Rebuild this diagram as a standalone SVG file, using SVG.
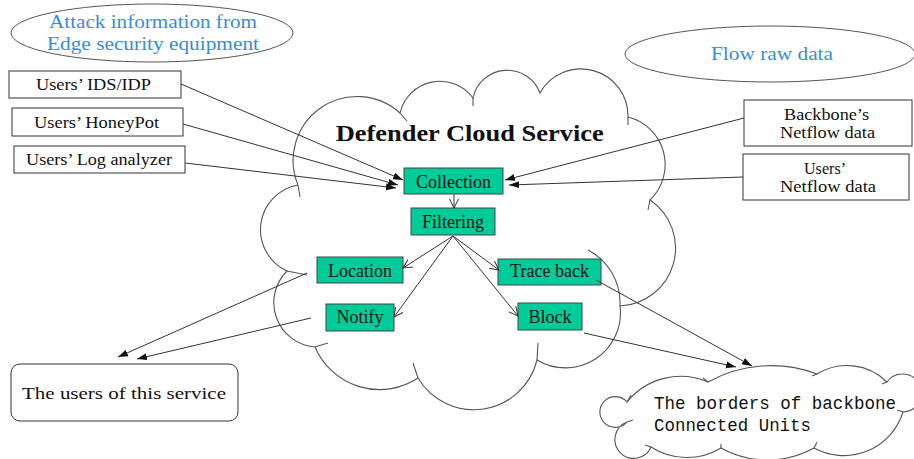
<svg xmlns="http://www.w3.org/2000/svg" width="914" height="459" viewBox="0 0 914 459">
<style>
.cloud{fill:none;stroke:#555;stroke-width:1.1}
.box{fill:#fff;stroke:#333;stroke-width:1}
.proc{fill:#00CC99;stroke:#444;stroke-width:1}
.t{font-family:"Liberation Serif","Times New Roman",serif;fill:#111}
.blue{font-family:"Liberation Serif","Times New Roman",serif;fill:#3a8be0;font-size:18px}
.ell{fill:none;stroke:#555;stroke-width:1}
.ln{fill:none;stroke:#333;stroke-width:1}
.mono{font-family:"Liberation Mono","Courier New",monospace;fill:#111;font-size:18.5px}
</style>
<defs>
<marker id="af" markerUnits="userSpaceOnUse" markerWidth="10" markerHeight="8" refX="10" refY="4" orient="auto"><path d="M0,0.5 L10,4 L0,7.5 z" fill="#111"/></marker>
<marker id="ao" markerUnits="userSpaceOnUse" markerWidth="10" markerHeight="10" refX="9" refY="5" orient="auto"><path d="M0,0.5 L9,5 L0,9.5" fill="none" stroke="#333" stroke-width="1"/></marker>
</defs>
<rect width="914" height="459" fill="#fff"/>

<g id="defender-cloud">
<path class="cloud" d="M298,185 A64 64 0 0 1 400,113 A41 41 0 0 1 473,98 A35 35 0 0 1 540,93 A47 47 0 0 1 628,117 A49 49 0 0 1 650,200 A58 58 0 0 1 620,306 A55 55 0 0 1 537,360 A65 65 0 0 1 418,378 A70 70 0 0 1 315,347 A44.5 44.5 0 0 1 287,271 A45.4 45.4 0 0 1 298,185"/>
<path class="cloud" d="M298,185 L300,197 M400,113 L407,121 M473,98 L473,106 M628,117 L628,125 M650,200 L648,210 M588,250 A60 60 0 0 1 620,306 M537,360 L538,343 M418,378 L413,363 M315,347 L328,343 M287,271 L307,275"/>
<text class="t" x="335.7" y="140.7" font-size="23" font-weight="bold" textLength="268" lengthAdjust="spacingAndGlyphs">Defender Cloud Service</text>
</g>

<g id="ellipse-attack">
<ellipse class="ell" cx="152" cy="33" rx="141" ry="29"/>
<text class="blue" x="49" y="28.3" textLength="208" lengthAdjust="spacingAndGlyphs">Attack information from</text>
<text class="blue" x="47" y="50" textLength="212" lengthAdjust="spacingAndGlyphs">Edge security equipment</text>
</g>

<g id="ellipse-flow">
<ellipse class="ell" cx="770" cy="54" rx="145" ry="28"/>
<text class="blue" x="711" y="60" textLength="122" lengthAdjust="spacingAndGlyphs">Flow raw data</text>
</g>

<g id="ids">
<rect class="box" x="9" y="71" width="172" height="27"/>
<text class="t" x="36" y="90" font-size="16" textLength="115" lengthAdjust="spacingAndGlyphs">Users’ IDS/IDP</text>
</g>
<g id="honeypot">
<rect class="box" x="12" y="108" width="171" height="28"/>
<text class="t" x="34" y="127.5" font-size="16" textLength="125" lengthAdjust="spacingAndGlyphs">Users’ HoneyPot</text>
</g>
<g id="loganalyzer">
<rect class="box" x="14" y="146" width="171" height="27"/>
<text class="t" x="26" y="165" font-size="16" textLength="146" lengthAdjust="spacingAndGlyphs">Users’ Log analyzer</text>
</g>

<g id="backbone-netflow">
<rect class="box" x="744" y="100" width="168" height="46"/>
<text class="t" x="784" y="120" font-size="16" textLength="85" lengthAdjust="spacingAndGlyphs">Backbone’s</text>
<text class="t" x="780" y="138.3" font-size="16" textLength="95" lengthAdjust="spacingAndGlyphs">Netflow data</text>
</g>
<g id="users-netflow">
<rect class="box" x="743" y="154" width="166" height="46"/>
<text class="t" x="804" y="174.3" font-size="16" textLength="42" lengthAdjust="spacingAndGlyphs">Users’</text>
<text class="t" x="780" y="192.3" font-size="16" textLength="96" lengthAdjust="spacingAndGlyphs">Netflow data</text>
</g>

<g id="collection">
<rect class="proc" x="404" y="168" width="99" height="26"/>
<text class="t" x="453.5" y="187.5" font-size="18" text-anchor="middle">Collection</text>
</g>
<g id="filtering">
<rect class="proc" x="411" y="208" width="84" height="27"/>
<text class="t" x="453" y="228.3" font-size="18" text-anchor="middle">Filtering</text>
</g>
<g id="location">
<rect class="proc" x="317" y="257" width="86" height="26"/>
<text class="t" x="360" y="276.5" font-size="18" text-anchor="middle">Location</text>
</g>
<g id="notify">
<rect class="proc" x="326" y="304" width="68" height="27"/>
<text class="t" x="360" y="323.3" font-size="18" text-anchor="middle">Notify</text>
</g>
<g id="traceback">
<rect class="proc" x="498" y="259" width="103" height="26"/>
<text class="t" x="549.5" y="277.3" font-size="18" text-anchor="middle">Trace back</text>
</g>
<g id="block">
<rect class="proc" x="518" y="303" width="64" height="27"/>
<text class="t" x="550" y="323.3" font-size="18" text-anchor="middle">Block</text>
</g>

<g id="users-service">
<rect class="box" x="11" y="364" width="227" height="57" rx="9" ry="9"/>
<text class="t" x="22" y="399" font-size="17.5" textLength="204" lengthAdjust="spacingAndGlyphs">The users of this service</text>
</g>

<g id="borders-cloud">
<path class="cloud" d="M627,422 A15.4 15.4 0 1 1 627,402 A69 69 0 0 1 708,382 A130 130 0 0 1 817,374 A57 57 0 0 1 887,382 A19 19 0 1 1 903,412 A62 62 0 0 1 814,448 A96 96 0 0 1 721,448 A66 66 0 0 1 651,447 A18.8 18.8 0 1 1 627,422"/>
<path class="cloud" d="M627,402 L631,395 M708,382 L703,378 M817,374 L812,376 M887,382 L882,384 M903,412 L897,410 M814,448 L817,442 M721,448 L721,444 M651,447 L645,445 M627,422 L633,420"/>
<text class="mono" x="654" y="409" textLength="242" lengthAdjust="spacingAndGlyphs">The borders of backbone</text>
<text class="mono" x="654" y="431" textLength="157" lengthAdjust="spacingAndGlyphs">Connected Units</text>
</g>

<g id="connectors">
<line class="ln" x1="181" y1="84" x2="403" y2="180" marker-end="url(#af)"/>
<line class="ln" x1="183" y1="124" x2="398" y2="185" marker-end="url(#af)"/>
<line class="ln" x1="185" y1="163" x2="396" y2="188" marker-end="url(#af)"/>
<line class="ln" x1="744" y1="118" x2="505" y2="180" marker-end="url(#af)"/>
<line class="ln" x1="743" y1="177" x2="509" y2="185" marker-end="url(#af)"/>
<line class="ln" x1="454" y1="194" x2="454" y2="208" marker-end="url(#ao)"/>
<line class="ln" x1="453" y1="236" x2="403" y2="268" marker-end="url(#ao)"/>
<line class="ln" x1="453" y1="236" x2="394" y2="317" marker-end="url(#ao)"/>
<line class="ln" x1="453" y1="236" x2="499" y2="270" marker-end="url(#ao)"/>
<line class="ln" x1="453" y1="236" x2="518" y2="316" marker-end="url(#ao)"/>
<line class="ln" x1="307" y1="273" x2="118" y2="357" marker-end="url(#af)"/>
<line class="ln" x1="311" y1="318" x2="137" y2="359" marker-end="url(#af)"/>
<line class="ln" x1="596" y1="280" x2="752" y2="366" marker-end="url(#af)"/>
<line class="ln" x1="584" y1="333" x2="736" y2="367" marker-end="url(#af)"/>
</g>
</svg>
